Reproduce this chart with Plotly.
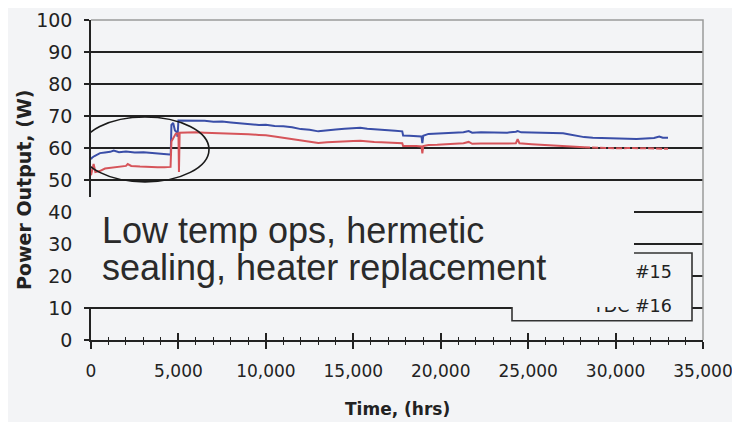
import plotly.graph_objects as go

# ---- data ----
tdc15_time = [0, 60, 200, 515, 800, 1100, 1300, 1600, 2000, 2500, 3000, 3500, 4000, 4500, 4560,
              4600, 4700, 4800, 4900, 4950, 5000, 5500, 6000, 6500, 7000, 7500, 8000, 8500, 9000,
              9600, 10000, 10500, 11000, 11500, 12000, 12500, 13000, 13500, 14000, 14500, 15000,
              15400, 15800, 16200, 16600, 17000, 17400, 17800, 17850, 18200, 18600, 18900, 18950,
              19000, 19300, 19800, 20300, 20800, 21300, 21600, 21800, 22300, 22800, 23300, 23800,
              24300, 24400, 24600, 25200, 25800, 26400, 27000, 27300, 27800, 28200, 28700, 29200,
              29700, 30200, 30700, 31200, 31700, 32200, 32500, 32700, 33000]
tdc15_power = [56.5, 57.0, 57.5, 58.4, 58.6, 58.8, 59.2, 58.7, 58.9, 58.6, 58.7, 58.4, 58.2, 58.0, 58.0,
               67.2, 67.8, 65.5, 65.0, 63.5, 68.6, 68.6, 68.4, 68.5, 68.2, 68.3, 68.0, 67.8, 67.6,
               67.2, 67.3, 66.9, 66.8, 66.5, 65.9, 65.7, 65.2, 65.6, 65.8, 66.0, 66.1,
               66.3, 66.0, 65.9, 65.6, 65.5, 65.4, 65.2, 63.9, 63.8, 63.7, 63.6, 61.5,
               63.8, 64.4, 64.5, 64.6, 64.8, 64.9, 65.3, 64.8, 64.9, 64.8, 64.7, 64.8,
               65.1, 65.3, 64.9, 64.8, 64.7, 64.8, 64.6, 64.3, 63.8, 63.4, 63.2, 63.1,
               62.9, 62.8, 62.9, 62.8, 63.0, 63.1, 63.6, 63.2, 63.2]

tdc16_time = [0, 60, 150, 250, 500, 800, 1100, 1400, 1700, 2000, 2100, 2300, 2800, 3300, 3800, 4200,
              4550, 4600, 4700, 4850, 5000, 5030, 5070, 5500, 6000, 6500, 7000, 7500, 8000, 8500,
              9000, 9600, 10000, 10500, 11000, 11500, 12000, 12500, 13000, 13500, 14000, 14500,
              15000, 15400, 15800, 16200, 16600, 17000, 17400, 17800, 17850, 18200, 18600, 18900,
              18950, 19000, 19300, 19800, 20300, 20800, 21300, 21600, 21800, 22300, 22800, 23300,
              23800, 24300, 24400, 24500, 25200, 25800, 26400, 27000, 27300, 27800, 28200,
              28700, 29200, 29700, 30200, 30700, 31200, 31700, 32200, 32700, 33000]
tdc16_power = [51.5, 53.0, 55.0, 52.5, 52.8, 53.6, 53.8, 54.0, 54.3, 54.4, 55.0, 54.4, 54.2, 54.0, 54.0, 54.0,
               54.1, 62.0, 63.2, 64.5, 64.6, 52.5, 64.8, 64.9, 64.9, 64.8, 64.7, 64.8, 64.6, 64.5,
               64.3, 64.1, 64.0, 63.6, 63.2, 62.8, 62.4, 62.0, 61.6, 61.8, 62.0, 62.1,
               62.2, 62.3, 62.0, 61.9, 61.8, 61.7, 61.6, 61.5, 60.6, 60.7, 60.6, 60.5,
               58.3, 60.6, 60.9, 61.0, 61.1, 61.3, 61.5, 61.9, 61.3, 61.4, 61.5, 61.4,
               61.4, 61.5, 62.8, 61.5, 61.2, 61.0, 60.9, 60.8, 60.6, 60.4, 60.2,
               60.1, 60.0, 60.0, 59.9, 60.0, 59.9, 59.9, 59.8, 59.8, 59.8]
tdc16_sparse_from = 28200  # red trace becomes broken/dashed after this time

series_names = ["TDC #15", "TDC #16"]
x_ticks = [0, 5000, 10000, 15000, 20000, 25000, 30000, 35000]
y_ticks = [0, 10, 20, 30, 40, 50, 60, 70, 80, 90, 100]
note_lines = ["Low temp ops, hermetic", "sealing, heater replacement"]

# ---- layout geometry (screen pixels of the 740x422 view; page body has an 8px margin) ----
OFF = 8
W, H = 740 - OFF, 422 - OFF
L, T = 91 - OFF, 20 - OFF
PW, PH = 612, 320
R, B = W - L - PW, H - T - PH
BG = "#f3f4f6"
INK = "#222222"


def px(xs):
    return (xs - OFF - L) / PW


def py(ys):
    return (T + PH - (ys - OFF)) / PH


blue = "#3a4ea8"
red = "#d6545a"

fig = go.Figure()
fig.add_trace(go.Scatter(x=tdc15_time, y=tdc15_power, mode="lines", name=series_names[0],
                         line=dict(color=blue, width=2), showlegend=False))
cut = next(i for i, t in enumerate(tdc16_time) if t >= tdc16_sparse_from)
fig.add_trace(go.Scatter(x=tdc16_time[:cut + 1], y=tdc16_power[:cut + 1], mode="lines",
                         name=series_names[1], line=dict(color=red, width=2), showlegend=False))
fig.add_trace(go.Scatter(x=tdc16_time[cut:], y=tdc16_power[cut:], mode="lines",
                         name=series_names[1], line=dict(color=red, width=2, dash="6px,2px"),
                         showlegend=False))
# helper axis for the upward half of the crossing ticks
fig.add_trace(go.Scatter(x=[], y=[], xaxis="x2", showlegend=False))

ytickfont = dict(family="DejaVu Sans", size=19, color=INK)
xtickfont = dict(family="DejaVu Sans", size=17, color=INK)

fig.update_layout(
    width=W, height=H,
    margin=dict(l=L, r=R, t=T, b=B, autoexpand=False),
    paper_bgcolor=BG, plot_bgcolor=BG,
    showlegend=False,
    xaxis=dict(range=[0, 35000], tickvals=x_ticks, tickformat=",d", ticks="outside",
               ticklen=7, tickwidth=1.5, tickcolor=INK, showline=True, linecolor=INK,
               linewidth=1.5, showgrid=False, zeroline=False, tickfont=xtickfont,
               ticklabelstandoff=8, automargin=False,
               minor=dict(dtick=1000, ticks="outside", ticklen=3, tickcolor=INK, tickwidth=1.2)),
    xaxis2=dict(range=[0, 35000], overlaying="x", anchor="y", side="bottom",
                tickvals=x_ticks, ticks="inside", ticklen=7, tickwidth=1.5, tickcolor=INK,
                showticklabels=False, showline=False, showgrid=False, zeroline=False,
                automargin=False,
                minor=dict(dtick=1000, ticks="inside", ticklen=3, tickcolor=INK, tickwidth=1.2)),
    yaxis=dict(range=[0, 100], tickvals=y_ticks, ticks="outside", ticklen=5, tickwidth=1.5,
               tickcolor=INK, showline=True, linecolor=INK, linewidth=1.5, showgrid=True,
               gridcolor=INK, gridwidth=1.5, zeroline=False, tickfont=ytickfont,
               ticklabelstandoff=8, automargin=False),
)

shapes = [
    # plot frame (top & right), light grey
    dict(type="path", xref="paper", yref="paper", path="M 0,1 L 1,1 L 1,0",
         line=dict(color="#9a9a9a", width=1.5), layer="above"),
    # ellipse around the early period
    dict(type="circle", xref="x", yref="y", x0=-572, x1=6748, y0=49.4, y1=69.7,
         line=dict(color="#1a1a1a", width=1.6), layer="above"),
    # legend box
    dict(type="rect", xref="x", yref="y", x0=24077, x1=34371, y0=6.0, y1=27.2,
         line=dict(color="#333333", width=1.6), fillcolor=BG, layer="above"),
]
fig.update_layout(shapes=shapes)

legfont = dict(family="DejaVu Sans", size=17.5, color=INK)
annotations = [
    dict(text=series_names[0], xref="paper", yref="paper", x=px(674), y=py(272),
         xanchor="right", yanchor="middle", showarrow=False, font=legfont),
    dict(text=series_names[1], xref="paper", yref="paper", x=px(674), y=py(306),
         xanchor="right", yanchor="middle", showarrow=False, font=legfont),
    # blank patch covering part of the chart (pasted text box)
    dict(text=" ", xref="paper", yref="paper", x=px(84), y=py(197), xanchor="left",
         yanchor="top", width=550, height=110, bgcolor=BG, borderpad=0, borderwidth=0,
         showarrow=False),
    dict(text=note_lines[0], xref="paper", yref="paper", x=px(100), y=py(230),
         xanchor="left", yanchor="middle", showarrow=False,
         font=dict(family="Liberation Sans, Arial", size=36, color="#2a2a2a")),
    dict(text=note_lines[1], xref="paper", yref="paper", x=px(100), y=py(267),
         xanchor="left", yanchor="middle", showarrow=False,
         font=dict(family="Liberation Sans, Arial", size=36, color="#2a2a2a")),
    # axis titles
    dict(text="<b>Power Output, (W)</b>", xref="paper", yref="paper", x=px(24), y=py(190),
         xanchor="center", yanchor="middle", textangle=-90, showarrow=False,
         font=dict(family="DejaVu Sans", size=19, color=INK)),
    dict(text="<b>Time, (hrs)</b>", xref="paper", yref="paper", x=px(397), y=py(409),
         xanchor="center", yanchor="middle", showarrow=False,
         font=dict(family="DejaVu Sans", size=17, color=INK)),
]
fig.update_layout(annotations=annotations)

fig.write_html("out.html")
